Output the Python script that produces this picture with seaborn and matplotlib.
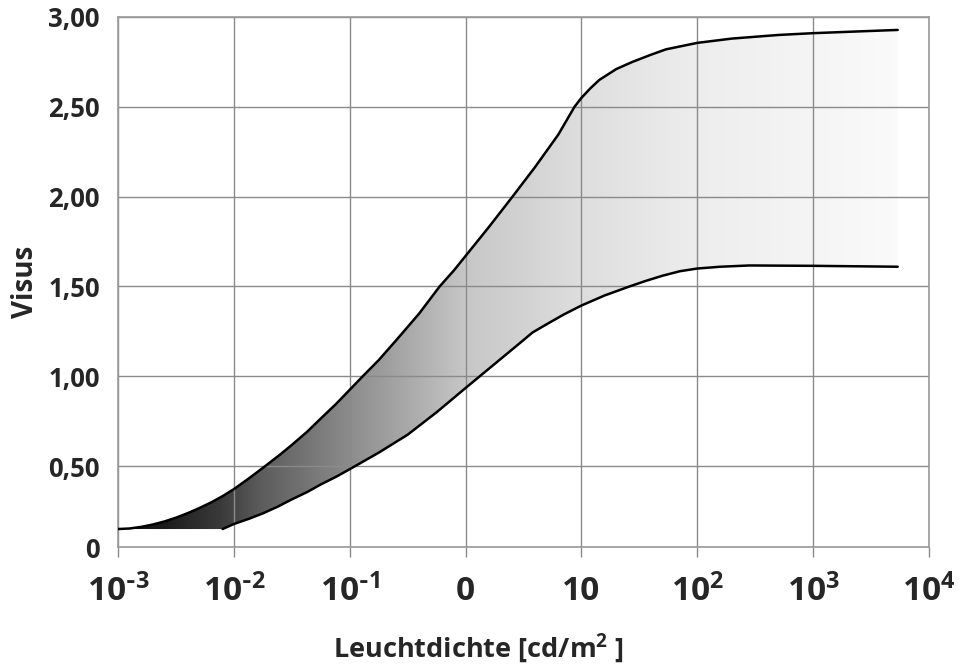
import numpy as np
import pandas as pd
import matplotlib
matplotlib.use("Agg")
import matplotlib.pyplot as plt
import seaborn as sns
from matplotlib.colors import LinearSegmentedColormap
from matplotlib.patches import Polygon

# ---- data ----
upper_log_lum = [-3.0, -2.9, -2.8, -2.7, -2.6, -2.5, -2.4, -2.3, -2.2, -2.1, -2.0,
                 -1.87, -1.73, -1.6, -1.5, -1.37, -1.25, -1.12, -1.0, -0.888, -0.75,
                 -0.6, -0.4, -0.224, -0.1, 0.0, 0.2, 0.405, 0.6, 0.8, 0.94, 1.0,
                 1.08, 1.155, 1.3, 1.44, 1.6, 1.73, 2.0, 2.3, 2.7, 3.0, 3.4, 3.73]
upper_visus = [0.150, 0.153, 0.162, 0.175, 0.192, 0.213, 0.238, 0.266, 0.297, 0.332,
               0.372, 0.432, 0.50, 0.565, 0.618, 0.69, 0.765, 0.845, 0.925, 1.0, 1.09,
               1.20, 1.35, 1.50, 1.59, 1.67, 1.83, 2.0, 2.165, 2.345, 2.50, 2.55,
               2.605, 2.65, 2.71, 2.75, 2.79, 2.82, 2.856, 2.88, 2.90, 2.91, 2.92, 2.928]

lower_log_lum = [-2.097, -2.0, -1.87, -1.75, -1.62, -1.5, -1.37, -1.25, -1.12, -1.0,
                 -0.75, -0.5, -0.25, 0.0, 0.15, 0.3, 0.45, 0.578, 0.7, 0.85, 1.0,
                 1.2, 1.414, 1.55, 1.7, 1.85, 2.0, 2.2, 2.45, 3.0, 3.73]
lower_visus = [0.150, 0.178, 0.207, 0.237, 0.275, 0.315, 0.355, 0.398, 0.44, 0.483,
               0.575, 0.675, 0.80, 0.935, 1.015, 1.095, 1.175, 1.244, 1.29, 1.345, 1.394,
               1.45, 1.50, 1.53, 1.56, 1.585, 1.60, 1.61, 1.617, 1.615, 1.61]

x_tick_values = [1e-3, 1e-2, 1e-1, 1, 10, 1e2, 1e3, 1e4]
x_tick_labels = [r"10$^{\text{-}3}$", r"10$^{\text{-}2}$", r"10$^{\text{-}1}$", "0", "10",
                 "10$^{2}$", "10$^{3}$", "10$^{4}$"]
y_tick_values = [0.05, 0.5, 1.0, 1.5, 2.0, 2.5, 3.0]
y_tick_labels = ["0", "0,50", "1,00", "1,50", "2,00", "2,50", "3,00"]

x_label = "Leuchtdichte [cd/m$^{2}$ ]"
y_label = "Visus"

# ---- style ----
sns.set_theme(style="white")
plt.rcParams["font.family"] = ["Open Sans", "DejaVu Sans"]
plt.rcParams["font.weight"] = "bold"
plt.rcParams["mathtext.default"] = "regular"

df_upper = pd.DataFrame({"lum": 10 ** np.array(upper_log_lum), "visus": upper_visus})
df_lower = pd.DataFrame({"lum": 10 ** np.array(lower_log_lum), "visus": lower_visus})

fig = plt.figure(figsize=(9.59, 6.66), dpi=100)
ax = fig.add_axes([118 / 959, 1 - 547 / 666, (929 - 118) / 959, (547 - 17) / 666])
ax.set_xscale("log")
ax.set_xlim(1e-3, 1e4)
ax.set_ylim(0.05, 3.0)

# gradient fill between the curves
stops = [(0.0, 0.05), ((-2.6 + 3) / 7, 0.11), ((-2.12 + 3) / 7, 0.23),
         ((-1.78 + 3) / 7, 0.36), ((-1 + 3) / 7, 0.55), (3 / 7, 0.78),
         (4 / 7, 0.87), (5 / 7, 0.93), (1.0, 0.99)]
cmap = LinearSegmentedColormap.from_list("g", [(p, (g, g, g)) for p, g in stops])
grad = np.linspace(0, 1, 512).reshape(1, -1)
img = ax.imshow(grad, cmap=cmap, extent=[0, 1, 0, 1], transform=ax.transAxes,
                aspect="auto", zorder=1, vmin=0, vmax=1, interpolation="bilinear")
verts = list(zip(df_upper["lum"], df_upper["visus"])) + \
    list(zip(df_lower["lum"][::-1], df_lower["visus"][::-1]))
poly = Polygon(verts, closed=True, transform=ax.transData, facecolor="none",
               edgecolor="none")
ax.add_patch(poly)
img.set_clip_path(poly)

sns.lineplot(data=df_upper, x="lum", y="visus", ax=ax, color="black", lw=1.8,
             sort=False, estimator=None, zorder=3)
sns.lineplot(data=df_lower, x="lum", y="visus", ax=ax, color="black", lw=1.8,
             sort=False, estimator=None, zorder=3)

ax.set_xlim(1e-3, 1e4)
ax.set_ylim(0.05, 3.0)
ax.set_axisbelow("line")
ax.grid(True, which="major", color="#8a8a8a", lw=1.0)
ax.grid(False, which="minor")
ax.set_xticks(x_tick_values)
ax.set_xticklabels(x_tick_labels)
ax.xaxis.set_minor_locator(matplotlib.ticker.NullLocator())
ax.set_yticks(y_tick_values)
ax.set_yticklabels(y_tick_labels)
for sp in ax.spines.values():
    sp.set_color("#9a9a9a")
    sp.set_linewidth(1.2)
ax.tick_params(axis="x", direction="out", length=7, width=1, color="#8a8a8a",
               labelsize=24, pad=13, bottom=True)
ax.tick_params(axis="y", length=0, labelsize=18.5, pad=13)
for t in ax.get_xticklabels() + ax.get_yticklabels():
    t.set_fontweight("bold")
ax.set_xlabel(x_label, fontsize=19.5, fontweight="bold")
ax.set_ylabel(y_label, fontsize=20, fontweight="bold")
ax.xaxis.set_label_coords((478 - 118) / 811, -(648 - 547) / 530, transform=ax.transAxes)
ax.yaxis.set_label_coords(-(118 - 25) / 811, 0.5, transform=ax.transAxes)
ax.xaxis.label.set_va("center")
ax.yaxis.label.set_va("center")

fig.savefig("out.png", dpi=100)
